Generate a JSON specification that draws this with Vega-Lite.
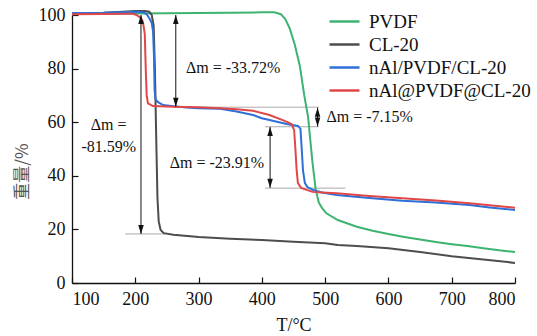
{
  "$schema": "https://vega.github.io/schema/vega-lite/v6.json",
  "width": 443,
  "height": 268,
  "padding": {"left": 72, "top": 15, "right": 22, "bottom": 53},
  "autosize": {"type": "none"},
  "background": "white",
  "config": {"font": "Liberation Serif", "view": {"stroke": null}, "text": {"font": "Liberation Serif"}},
  "datasets": {
    "curves": [
      {"T": 100, "w": 100.4, "s": "PVDF"}, {"T": 200, "w": 100.6, "s": "PVDF"}, {"T": 300, "w": 100.7, "s": "PVDF"}, {"T": 350, "w": 100.8, "s": "PVDF"}, {"T": 400, "w": 101.0, "s": "PVDF"}, {"T": 420, "w": 101.0, "s": "PVDF"}, {"T": 430, "w": 100.3, "s": "PVDF"}, {"T": 437, "w": 98.5, "s": "PVDF"}, {"T": 444, "w": 95, "s": "PVDF"}, {"T": 452, "w": 89, "s": "PVDF"}, {"T": 460, "w": 81, "s": "PVDF"}, {"T": 467, "w": 70, "s": "PVDF"}, {"T": 473, "w": 62, "s": "PVDF"}, {"T": 480, "w": 45, "s": "PVDF"}, {"T": 485, "w": 35, "s": "PVDF"}, {"T": 490, "w": 30, "s": "PVDF"}, {"T": 495, "w": 28, "s": "PVDF"}, {"T": 502, "w": 26, "s": "PVDF"}, {"T": 520, "w": 23.5, "s": "PVDF"}, {"T": 550, "w": 21, "s": "PVDF"}, {"T": 575, "w": 19.5, "s": "PVDF"}, {"T": 600, "w": 18.3, "s": "PVDF"}, {"T": 625, "w": 17.2, "s": "PVDF"}, {"T": 650, "w": 16.2, "s": "PVDF"}, {"T": 675, "w": 15.3, "s": "PVDF"}, {"T": 700, "w": 14.5, "s": "PVDF"}, {"T": 725, "w": 13.8, "s": "PVDF"}, {"T": 750, "w": 13, "s": "PVDF"}, {"T": 775, "w": 12.2, "s": "PVDF"}, {"T": 800, "w": 11.6, "s": "PVDF"},
      {"T": 100, "w": 100.5, "s": "CL-20"}, {"T": 150, "w": 100.8, "s": "CL-20"}, {"T": 180, "w": 101.2, "s": "CL-20"}, {"T": 200, "w": 101.5, "s": "CL-20"}, {"T": 215, "w": 101.5, "s": "CL-20"}, {"T": 222, "w": 101.2, "s": "CL-20"}, {"T": 226, "w": 100, "s": "CL-20"}, {"T": 229, "w": 96, "s": "CL-20"}, {"T": 231, "w": 80, "s": "CL-20"}, {"T": 233, "w": 55, "s": "CL-20"}, {"T": 235, "w": 32, "s": "CL-20"}, {"T": 237, "w": 23, "s": "CL-20"}, {"T": 240, "w": 19.8, "s": "CL-20"}, {"T": 245, "w": 18.6, "s": "CL-20"}, {"T": 260, "w": 18, "s": "CL-20"}, {"T": 300, "w": 17.2, "s": "CL-20"}, {"T": 350, "w": 16.5, "s": "CL-20"}, {"T": 400, "w": 16, "s": "CL-20"}, {"T": 450, "w": 15.4, "s": "CL-20"}, {"T": 500, "w": 14.8, "s": "CL-20"}, {"T": 520, "w": 14.2, "s": "CL-20"}, {"T": 550, "w": 13.8, "s": "CL-20"}, {"T": 600, "w": 13, "s": "CL-20"}, {"T": 650, "w": 11.6, "s": "CL-20"}, {"T": 700, "w": 10, "s": "CL-20"}, {"T": 750, "w": 8.8, "s": "CL-20"}, {"T": 800, "w": 7.5, "s": "CL-20"},
      {"T": 100, "w": 100.7, "s": "nAl/PVDF/CL-20"}, {"T": 150, "w": 100.8, "s": "nAl/PVDF/CL-20"}, {"T": 200, "w": 101.2, "s": "nAl/PVDF/CL-20"}, {"T": 212, "w": 101, "s": "nAl/PVDF/CL-20"}, {"T": 218, "w": 100.3, "s": "nAl/PVDF/CL-20"}, {"T": 223, "w": 98.5, "s": "nAl/PVDF/CL-20"}, {"T": 226, "w": 97, "s": "nAl/PVDF/CL-20"}, {"T": 228, "w": 94, "s": "nAl/PVDF/CL-20"}, {"T": 229.5, "w": 85, "s": "nAl/PVDF/CL-20"}, {"T": 230.5, "w": 72, "s": "nAl/PVDF/CL-20"}, {"T": 232, "w": 68.5, "s": "nAl/PVDF/CL-20"}, {"T": 236, "w": 67.5, "s": "nAl/PVDF/CL-20"}, {"T": 244, "w": 66.4, "s": "nAl/PVDF/CL-20"}, {"T": 260, "w": 66, "s": "nAl/PVDF/CL-20"}, {"T": 280, "w": 65.5, "s": "nAl/PVDF/CL-20"}, {"T": 300, "w": 65.2, "s": "nAl/PVDF/CL-20"}, {"T": 334, "w": 65, "s": "nAl/PVDF/CL-20"}, {"T": 360, "w": 64, "s": "nAl/PVDF/CL-20"}, {"T": 386, "w": 62.7, "s": "nAl/PVDF/CL-20"}, {"T": 400, "w": 61.5, "s": "nAl/PVDF/CL-20"}, {"T": 412, "w": 60.8, "s": "nAl/PVDF/CL-20"}, {"T": 439, "w": 59.3, "s": "nAl/PVDF/CL-20"}, {"T": 457, "w": 58.6, "s": "nAl/PVDF/CL-20"}, {"T": 461, "w": 57.5, "s": "nAl/PVDF/CL-20"}, {"T": 463, "w": 50, "s": "nAl/PVDF/CL-20"}, {"T": 465, "w": 42, "s": "nAl/PVDF/CL-20"}, {"T": 468, "w": 37.3, "s": "nAl/PVDF/CL-20"}, {"T": 472, "w": 35.8, "s": "nAl/PVDF/CL-20"}, {"T": 481, "w": 34.7, "s": "nAl/PVDF/CL-20"}, {"T": 495, "w": 33.8, "s": "nAl/PVDF/CL-20"}, {"T": 518, "w": 32.8, "s": "nAl/PVDF/CL-20"}, {"T": 570, "w": 31.7, "s": "nAl/PVDF/CL-20"}, {"T": 622, "w": 30.7, "s": "nAl/PVDF/CL-20"}, {"T": 675, "w": 30, "s": "nAl/PVDF/CL-20"}, {"T": 728, "w": 29.1, "s": "nAl/PVDF/CL-20"}, {"T": 760, "w": 28.2, "s": "nAl/PVDF/CL-20"}, {"T": 800, "w": 27.2, "s": "nAl/PVDF/CL-20"},
      {"T": 100, "w": 100.3, "s": "nAl@PVDF@CL-20"}, {"T": 150, "w": 100.4, "s": "nAl@PVDF@CL-20"}, {"T": 195, "w": 100.5, "s": "nAl@PVDF@CL-20"}, {"T": 202, "w": 100, "s": "nAl@PVDF@CL-20"}, {"T": 208, "w": 99, "s": "nAl@PVDF@CL-20"}, {"T": 212, "w": 97.5, "s": "nAl@PVDF@CL-20"}, {"T": 215, "w": 93, "s": "nAl@PVDF@CL-20"}, {"T": 216.5, "w": 80, "s": "nAl@PVDF@CL-20"}, {"T": 218, "w": 70, "s": "nAl@PVDF@CL-20"}, {"T": 220, "w": 67, "s": "nAl@PVDF@CL-20"}, {"T": 228, "w": 66, "s": "nAl@PVDF@CL-20"}, {"T": 260, "w": 65.8, "s": "nAl@PVDF@CL-20"}, {"T": 300, "w": 65.6, "s": "nAl@PVDF@CL-20"}, {"T": 334, "w": 65.2, "s": "nAl@PVDF@CL-20"}, {"T": 360, "w": 64.8, "s": "nAl@PVDF@CL-20"}, {"T": 386, "w": 64.3, "s": "nAl@PVDF@CL-20"}, {"T": 412, "w": 62.7, "s": "nAl@PVDF@CL-20"}, {"T": 433, "w": 60.8, "s": "nAl@PVDF@CL-20"}, {"T": 447, "w": 59.3, "s": "nAl@PVDF@CL-20"}, {"T": 451, "w": 57, "s": "nAl@PVDF@CL-20"}, {"T": 453, "w": 50, "s": "nAl@PVDF@CL-20"}, {"T": 455, "w": 42, "s": "nAl@PVDF@CL-20"}, {"T": 457, "w": 37.3, "s": "nAl@PVDF@CL-20"}, {"T": 462, "w": 35.5, "s": "nAl@PVDF@CL-20"}, {"T": 480, "w": 34, "s": "nAl@PVDF@CL-20"}, {"T": 495, "w": 33.8, "s": "nAl@PVDF@CL-20"}, {"T": 518, "w": 33.5, "s": "nAl@PVDF@CL-20"}, {"T": 570, "w": 32.5, "s": "nAl@PVDF@CL-20"}, {"T": 622, "w": 31.6, "s": "nAl@PVDF@CL-20"}, {"T": 675, "w": 30.8, "s": "nAl@PVDF@CL-20"}, {"T": 728, "w": 29.8, "s": "nAl@PVDF@CL-20"}, {"T": 760, "w": 29, "s": "nAl@PVDF@CL-20"}, {"T": 800, "w": 28.1, "s": "nAl@PVDF@CL-20"}
    ],
    "guides": [
      {"x1": 262, "x2": 490, "y": 65.6},
      {"x1": 405, "x2": 490, "y": 58.3},
      {"x1": 405, "x2": 532, "y": 35.4},
      {"x1": 184, "x2": 247, "y": 18.3}
    ],
    "arrows": [
      {"T": 264, "top": 100, "bottom": 65.8},
      {"T": 209, "top": 100, "bottom": 18.3},
      {"T": 488, "top": 65.4, "bottom": 58.4},
      {"T": 413, "top": 58.2, "bottom": 35.5}
    ],
    "labels": [
      {"T": 280, "y": 80.2, "text": "Δm = -33.72%", "a": "left"},
      {"T": 502, "y": 62, "text": "Δm = -7.15%", "a": "left"},
      {"T": 329, "y": 44.8, "text": "Δm = -23.91%", "a": "center"},
      {"T": 158, "y": 59, "text": "Δm =", "a": "center"},
      {"T": 158, "y": 50.7, "text": "-81.59%", "a": "center"}
    ]
  },
  "layer": [
    {
      "data": {"name": "guides"},
      "mark": {"type": "rule", "color": "#aaaaaa", "strokeWidth": 1},
      "encoding": {
        "x": {"field": "x1", "type": "quantitative", "scale": {"domain": [100, 800], "nice": false}},
        "x2": {"field": "x2"},
        "y": {"field": "y", "type": "quantitative", "scale": {"domain": [0, 100], "nice": false}}
      }
    },
    {
      "data": {"name": "curves"},
      "mark": {"type": "line", "strokeWidth": 2, "clip": false},
      "encoding": {
        "x": {"field": "T", "type": "quantitative", "scale": {"domain": [100, 800], "nice": false},
          "axis": {"values": [100, 200, 300, 400, 500, 600, 700, 800], "tickSize": -6, "labelPadding": 13, "labelFont": "Liberation Serif", "labelFontSize": 18, "labelColor": "#111", "domainColor": "#111", "domainWidth": 1.3, "tickColor": "#111", "tickWidth": 1.2, "grid": false,
            "title": "T/°C", "titleFont": "Liberation Serif", "titleFontSize": 18, "titleFontWeight": "normal", "titleColor": "#111", "titleY": 42, "titleBaseline": "middle"}},
        "y": {"field": "w", "type": "quantitative", "scale": {"domain": [0, 100], "nice": false},
          "axis": {"values": [0, 20, 40, 60, 80, 100], "tickSize": -6, "labelPadding": 13, "labelFont": "Liberation Serif", "labelFontSize": 18, "labelColor": "#111", "domainColor": "#111", "domainWidth": 1.3, "tickColor": "#111", "tickWidth": 1.2, "grid": false,
            "title": "重量/%", "titleFont": "Noto Sans CJK SC", "titleFontSize": 17, "titleFontWeight": "normal", "titleColor": "#555", "titleAngle": -90, "titleX": -50, "titleY": 156, "titleAlign": "center", "titleBaseline": "middle"}},
        "color": {"field": "s", "type": "nominal",
          "scale": {"domain": ["PVDF", "CL-20", "nAl/PVDF/CL-20", "nAl@PVDF@CL-20"], "range": ["#3CB371", "#4D4D4D", "#2E6FD8", "#E04848"]},
          "legend": {"orient": "none", "legendX": 263, "legendY": -3, "title": null, "symbolType": "M-3,0H3", "symbolSize": 100, "symbolStrokeWidth": 2.5, "labelFontSize": 19, "labelOffset": 15, "rowPadding": 3, "labelLimit": 400, "labelColor": "#111", "labelFont": "Liberation Serif"}}
      }
    },
    {
      "data": {"name": "arrows"},
      "mark": {"type": "rule", "color": "#111", "strokeWidth": 1},
      "encoding": {
        "x": {"field": "T", "type": "quantitative"},
        "y": {"field": "top", "type": "quantitative"},
        "y2": {"field": "bottom"}
      }
    },
    {
      "data": {"name": "arrows"},
      "mark": {"type": "point", "shape": "M0,0L-0.55,1.8L0.55,1.8Z", "size": 100, "filled": true, "color": "#111", "opacity": 1},
      "encoding": {
        "x": {"field": "T", "type": "quantitative"},
        "y": {"field": "top", "type": "quantitative"}
      }
    },
    {
      "data": {"name": "arrows"},
      "mark": {"type": "point", "shape": "M0,0L-0.55,-1.8L0.55,-1.8Z", "size": 100, "filled": true, "color": "#111", "opacity": 1},
      "encoding": {
        "x": {"field": "T", "type": "quantitative"},
        "y": {"field": "bottom", "type": "quantitative"}
      }
    },
    {
      "data": {"name": "labels"},
      "transform": [{"filter": "datum.a == 'left'"}],
      "mark": {"type": "text", "fontSize": 16, "align": "left", "baseline": "middle", "color": "#111", "font": "Liberation Serif"},
      "encoding": {
        "x": {"field": "T", "type": "quantitative"},
        "y": {"field": "y", "type": "quantitative"},
        "text": {"field": "text"}
      }
    },
    {
      "data": {"name": "labels"},
      "transform": [{"filter": "datum.a == 'center'"}],
      "mark": {"type": "text", "fontSize": 16, "align": "center", "baseline": "middle", "color": "#111", "font": "Liberation Serif"},
      "encoding": {
        "x": {"field": "T", "type": "quantitative"},
        "y": {"field": "y", "type": "quantitative"},
        "text": {"field": "text"}
      }
    }
  ]
}
